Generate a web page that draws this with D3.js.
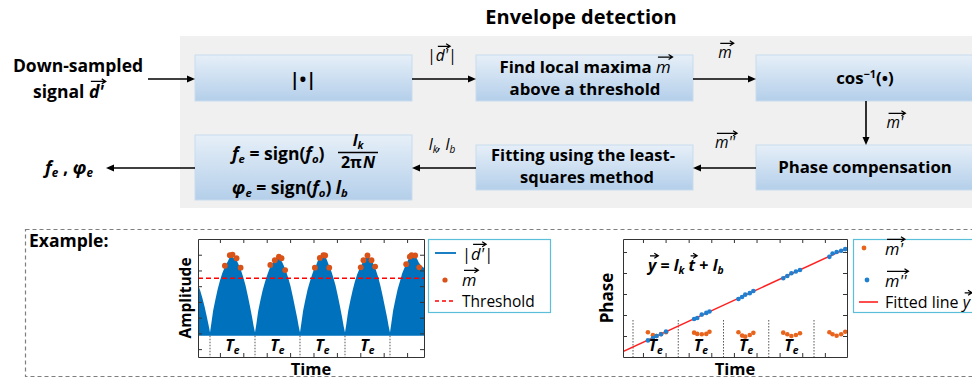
<!DOCTYPE html>
<html><head><meta charset="utf-8">
<script src="https://cdn.jsdelivr.net/npm/d3@7"></script>
<style>body{margin:0;background:#fff}svg{display:block}text{font-family:"Open Sans","Noto Sans",sans-serif}</style>
</head><body><svg id="c" width="972" height="379"></svg>
<script>
// ---------------- data ----------------
const segBounds = [0, 1, 2, 3, 4];          // period boundaries (units of Te)
const teAt = [0.5, 1.5, 2.5, 3.5];
// amplitude envelope |d'| (t in Te, amplitude)
const envT = [-0.267,-0.22,-0.17,-0.12,-0.07,-0.03,0,
 0.03,0.07,0.12,0.17,0.22,0.27,0.32,0.36,0.40,0.44,0.48,0.52,0.56,0.60,0.64,0.69,0.74,0.79,0.84,0.89,0.94,0.97,1.0,
 1.03,1.07,1.12,1.17,1.22,1.27,1.32,1.36,1.40,1.44,1.48,1.52,1.56,1.60,1.64,1.69,1.74,1.79,1.84,1.89,1.94,1.97,2.0,
 2.03,2.07,2.12,2.17,2.22,2.27,2.32,2.36,2.40,2.44,2.48,2.52,2.56,2.60,2.64,2.69,2.74,2.79,2.84,2.89,2.94,2.97,3.0,
 3.03,3.07,3.12,3.17,3.22,3.27,3.32,3.36,3.40,3.44,3.48,3.52,3.56,3.60,3.64,3.69,3.74,3.79,3.84,3.89,3.94,3.97,4.0,
 4.03,4.07,4.12,4.17,4.22,4.27,4.32,4.36,4.40,4.44,4.48,4.52,4.56,4.60,4.64,4.69,4.74,4.756];
const envA = [0.62,0.55,0.45,0.34,0.21,0.10,0.01,
 0.13,0.29,0.43,0.56,0.67,0.76,0.83,0.88,0.92,0.97,0.99,0.96,0.95,0.92,0.87,0.80,0.71,0.61,0.48,0.34,0.19,0.09,0.01,
 0.12,0.28,0.42,0.55,0.65,0.74,0.82,0.87,0.90,0.94,0.96,0.97,0.94,0.91,0.86,0.79,0.70,0.60,0.47,0.33,0.19,0.09,0.01,
 0.13,0.29,0.43,0.56,0.66,0.75,0.83,0.87,0.93,0.96,0.99,1.00,0.98,0.93,0.87,0.80,0.71,0.61,0.48,0.34,0.19,0.09,0.01,
 0.12,0.28,0.42,0.55,0.66,0.75,0.82,0.86,0.91,0.95,0.97,0.98,0.95,0.92,0.87,0.80,0.71,0.60,0.47,0.33,0.19,0.09,0.01,
 0.13,0.29,0.43,0.56,0.66,0.76,0.83,0.88,0.93,0.97,0.99,1.00,0.98,0.95,0.90,0.86,0.84,0.83];
const baseAmp = -0.03;
// local maxima m (t, amplitude)
const peakT = [0.33,0.44,0.50,0.59,0.68, 1.34,1.44,1.53,1.59,1.67, 2.33,2.44,2.52,2.56,2.65, 3.35,3.41,3.50,3.59,3.67, 4.36,4.44,4.48,4.56,4.65];
const peakA = [0.86,0.995,1.0,0.955,0.835, 0.87,0.93,0.975,0.955,0.805, 0.835,0.96,0.995,0.99,0.835, 0.84,0.93,0.99,0.93,0.85, 0.88,0.975,0.995,0.99,0.84];
const threshold = 0.70;
const ampTicks = [-0.2,0,0.2,0.4,0.6,0.8,1.0];
const timeTicksL = [0.22,0.74,1.26,1.78,2.30,2.82,3.34,3.86,4.38];
// phase: m' (arccos) and m'' (compensated)
const phT = [0.33,0.44,0.52,0.62,0.73, 1.35,1.42,1.52,1.62,1.69, 2.33,2.41,2.48,2.58,2.66, 3.32,3.41,3.50,3.60,3.69, 4.34,4.41,4.50,4.60,4.69];
const mPrime = [1.18,1.04,1.00,1.09,1.18, 1.16,1.10,1.08,1.10,1.20, 1.18,1.02,0.97,1.05,1.15, 1.16,1.08,1.00,1.05,1.13, 1.18,1.08,1.01,1.08,1.20];
const mDouble = [0.79,0.90,1.00,1.08,1.21, 1.81,1.86,2.02,2.10,2.17, 2.76,2.86,2.97,3.04,3.14, 3.75,3.86,3.99,4.07,4.14, 4.77,4.93,5.00,5.06,5.14];
const fitSlope = 0.995, fitIntercept = 0.479;   // l_k, l_b
const phaseTicks = [1,2,3,4,5];
const timeTicksR = [0.22,0.72,1.23,1.73,2.23,2.73,3.24,3.74,4.24];
const phaseTeTop = 1.76;

// ---------------- helpers ----------------
const svg = d3.select('#c');
const defs = svg.append('defs');
const gr = defs.append('linearGradient').attr('id','bx').attr('x1',0).attr('y1',0).attr('x2',0).attr('y2',1);
gr.append('stop').attr('offset','0%').attr('stop-color','#e6eff8');
gr.append('stop').attr('offset','100%').attr('stop-color','#b4cfea');

function rich(g, x, y, segs, o = {}) {
  const fs = o.size || 16;
  const t = g.append('text').attr('x', x).attr('y', y).attr('font-size', fs)
    .attr('font-weight', o.weight || 'bold').attr('text-anchor', o.anchor || 'start').attr('fill', '#000');
  let shift = 0, idx = 0; const vecs = [];
  segs.forEach(s => {
    if (typeof s === 'string') s = { t: s };
    const sp = t.append('tspan').text(s.t);
    if (s.i) sp.attr('font-style', 'italic');
    if (s.w) sp.attr('font-weight', s.w);
    const target = s.sub ? 0.18 : s.sup ? -0.38 : 0;
    const dy = (target - shift) * fs;
    if (dy) sp.attr('dy', dy);
    shift = target;
    if (s.sub || s.sup) sp.attr('font-size', fs * 0.65);
    if (s.dx) sp.attr('dx', s.dx);
    if (s.vec) vecs.push([idx, s.t.length]);
    idx += s.t.length;
  });
  const node = t.node();
  vecs.forEach(([a, n]) => {
    const e1 = node.getExtentOfChar(a), e2 = node.getExtentOfChar(a + n - 1);
    const x1 = e1.x + 2, x2 = e2.x + e2.width + 2, yy = y - fs * 0.95;
    g.append('path').attr('d', `M${x1},${yy}H${x2}M${x2-4},${yy-2.5}L${x2},${yy}L${x2-4},${yy+2.5}`)
      .attr('fill', 'none').attr('stroke', '#000').attr('stroke-width', 1.2);
  });
  return t;
}
function arrow(x1, y1, x2, y2) {
  const a = Math.atan2(y2 - y1, x2 - x1), L = 8, W = 3.5;
  const bx = x2 - L * Math.cos(a), by = y2 - L * Math.sin(a);
  svg.append('line').attr('x1', x1).attr('y1', y1).attr('x2', bx).attr('y2', by).attr('stroke', '#000').attr('stroke-width', 1.6);
  svg.append('path').attr('d', `M${x2},${y2}L${bx - W*Math.sin(a)},${by + W*Math.cos(a)}L${bx + W*Math.sin(a)},${by - W*Math.cos(a)}Z`).attr('fill', '#000');
}
function box(x, y, w, h) {
  svg.append('rect').attr('x', x).attr('y', y).attr('width', w).attr('height', h)
    .attr('fill', 'url(#bx)').attr('stroke', '#c8dbee').attr('stroke-width', 1);
}

// ---------------- flow diagram ----------------
svg.append('text').attr('x', 581).attr('y', 24).attr('text-anchor', 'middle').attr('font-size', 20)
  .attr('font-weight', 'bold').text('Envelope detection');
svg.append('rect').attr('x', 180).attr('y', 36).attr('width', 800).attr('height', 172).attr('fill', '#f0f0f0');

box(195, 55, 217, 46); box(476, 55, 217, 46); box(756, 55, 230, 46);
box(195, 135, 217, 65); box(476, 145, 217, 45); box(756, 145, 230, 45);

rich(svg, 78, 72, ['Down-sampled'], { size: 17.5, anchor: 'middle' });
rich(svg, 33, 98, ['signal ', { t: "d'", i: 1, vec: 1 }], { size: 17.5 });
arrow(148, 79, 195, 79);
rich(svg, 303, 86, ['|•|'], { size: 18, anchor: 'middle' });
arrow(412, 79, 476, 79);
rich(svg, 442, 61, ['|', { t: "d'", i: 1, vec: 1 }, '|'], { size: 15.5, anchor: 'middle', weight: 'normal' });
rich(svg, 585, 73, ['Find local maxima ', { t: 'm', i: 1, vec: 1, w: 'normal' }], { size: 16.8, anchor: 'middle' });
rich(svg, 585, 95, ['above a threshold'], { size: 16.8, anchor: 'middle' });
arrow(693, 79, 756, 79);
rich(svg, 725, 58, [{ t: 'm', i: 1, vec: 1 }], { size: 15.5, anchor: 'middle', weight: 'normal' });
rich(svg, 865, 84, ['cos', { t: '−1', sup: 1 }, '(•)'], { size: 16.8, anchor: 'middle' });
arrow(866, 101, 866, 145);
rich(svg, 895, 128, [{ t: "m'", i: 1, vec: 1 }], { size: 15.5, anchor: 'middle', weight: 'normal' });
rich(svg, 865, 173, ['Phase compensation'], { size: 16.8, anchor: 'middle' });
arrow(756, 168, 693, 168);
rich(svg, 725, 148, [{ t: "m''", i: 1, vec: 1 }], { size: 15.5, anchor: 'middle', weight: 'normal' });
rich(svg, 583, 161, ['Fitting using the least-'], { size: 16.5, anchor: 'middle' });
rich(svg, 587, 183, ['squares method'], { size: 16.5, anchor: 'middle' });
arrow(476, 168, 412, 168);
rich(svg, 442, 150, [{ t: 'l', i: 1 }, { t: 'k', i: 1, sub: 1 }, { t: ', ', i: 1 }, { t: 'l', i: 1 }, { t: 'b', i: 1, sub: 1 }], { size: 15.5, anchor: 'middle', weight: 'normal' });
// formula box
rich(svg, 232, 160, [{ t: 'f', i: 1 }, { t: 'e', i: 1, sub: 1 }, ' = sign(', { t: 'f', i: 1 }, { t: 'o', i: 1, sub: 1 }, ')'], { size: 17.5 });
rich(svg, 358, 146, [{ t: 'l', i: 1 }, { t: 'k', i: 1, sub: 1 }], { size: 16, anchor: 'middle' });
svg.append('line').attr('x1', 338).attr('x2', 378).attr('y1', 152.5).attr('y2', 152.5).attr('stroke', '#000').attr('stroke-width', 1.3);
rich(svg, 358, 168, ['2π', { t: 'N', i: 1, dx: 1 }], { size: 16, anchor: 'middle' });
rich(svg, 232, 194, [{ t: 'φ', i: 1 }, { t: 'e', i: 1, sub: 1 }, ' = sign(', { t: 'f', i: 1 }, { t: 'o', i: 1, sub: 1 }, ')  ', { t: 'l', i: 1 }, { t: 'b', i: 1, sub: 1 }], { size: 17.5 });
arrow(195, 168, 106, 168);
rich(svg, 45, 174, [{ t: 'f', i: 1 }, { t: 'e', i: 1, sub: 1 }, ' , ', { t: 'φ', i: 1 }, { t: 'e', i: 1, sub: 1 }], { size: 18 });

// ---------------- example frame ----------------
svg.append('rect').attr('x', 25.5).attr('y', 229.5).attr('width', 960).attr('height', 147)
  .attr('fill', 'none').attr('stroke', '#7f7f7f').attr('stroke-width', 1.2).attr('stroke-dasharray', '4,3');
svg.append('text').attr('x', 29).attr('y', 247).attr('font-size', 17.5).attr('font-weight', 'bold').text('Example:');

function frame(g, x, y, xt, yt) {
  g.append('g').attr('transform', `translate(0,${y.range()[1]})`).call(d3.axisTop(x).tickValues(xt).tickSize(-4).tickSizeOuter(0).tickFormat(''));
  g.append('g').attr('transform', `translate(0,${y.range()[0]})`).call(d3.axisBottom(x).tickValues(xt).tickSize(-4).tickSizeOuter(0).tickFormat(''));
  g.append('g').attr('transform', `translate(${x.range()[0]},0)`).call(d3.axisLeft(y).tickValues(yt).tickSize(-4).tickSizeOuter(0).tickFormat(''));
  g.append('g').attr('transform', `translate(${x.range()[1]},0)`).call(d3.axisRight(y).tickValues(yt).tickSize(-4).tickSizeOuter(0).tickFormat(''));
  g.selectAll('.domain,.tick line').attr('stroke', '#333');
}
function teLabels(g, x, yb) {
  teAt.forEach(t => rich(g, x(t), yb, [{ t: 'T', i: 1 }, { t: 'e', i: 1, sub: 1 }], { size: 16, anchor: 'middle' }));
}

// amplitude plot
const xL = d3.scaleLinear().domain([-0.267, 4.756]).range([198, 424]);
const yL = d3.scaleLinear().domain([-0.3, 1.2]).range([357, 239]);
const gL = svg.append('g');
defs.append('clipPath').attr('id', 'cl').append('rect').attr('x', 198).attr('y', 239).attr('width', 226).attr('height', 118);
const env = envT.map((t, i) => [t, envA[i]]);
gL.append('path').datum(env).attr('clip-path', 'url(#cl)')
  .attr('d', d3.area().x(d => xL(d[0])).y0(yL(baseAmp)).y1(d => yL(d[1])))
  .attr('fill', '#0072BD');
gL.selectAll('.sb').data(segBounds).join('line').attr('x1', d => xL(d)).attr('x2', d => xL(d))
  .attr('y1', yL(baseAmp)).attr('y2', yL(-0.3)).attr('stroke', '#555').attr('stroke-dasharray', '1.5,1.5');
gL.append('line').attr('x1', 198).attr('x2', 424).attr('y1', yL(threshold)).attr('y2', yL(threshold))
  .attr('stroke', '#FF0000').attr('stroke-width', 1.5).attr('stroke-dasharray', '5,3');
gL.selectAll('.pk').data(peakT.map((t, i) => [t, peakA[i]])).join('circle')
  .attr('cx', d => xL(d[0])).attr('cy', d => yL(d[1])).attr('r', 2.9).attr('fill', '#D95319');
teLabels(gL, xL, 351);
frame(gL, xL, yL, timeTicksL, ampTicks);
gL.append('text').attr('transform', 'translate(191,298) rotate(-90)').attr('text-anchor', 'middle')
  .attr('font-size', 15.5).attr('font-weight', 'bold').text('Amplitude');
gL.append('text').attr('x', 311).attr('y', 375).attr('text-anchor', 'middle').attr('font-size', 16.5).attr('font-weight', 'bold').text('Time');

// legend 1
svg.append('rect').attr('x', 428.5).attr('y', 239.5).attr('width', 122).attr('height', 73).attr('fill', '#fff').attr('stroke', '#5bbfd9').attr('stroke-width', 1.2);
svg.append('line').attr('x1', 435).attr('x2', 456).attr('y1', 253).attr('y2', 253).attr('stroke', '#0072BD').attr('stroke-width', 1.8);
rich(svg, 462, 260, ['|', { t: "d'", i: 1, vec: 1 }, '|'], { size: 16.5, weight: 'normal' });
svg.append('circle').attr('cx', 445).attr('cy', 280).attr('r', 2.6).attr('fill', '#D95319');
rich(svg, 462, 286, [{ t: 'm', i: 1, vec: 1 }], { size: 16.5, weight: 'normal' });
svg.append('line').attr('x1', 435).attr('x2', 456).attr('y1', 301).attr('y2', 301).attr('stroke', '#FF0000').attr('stroke-width', 1.5).attr('stroke-dasharray', '4,3');
rich(svg, 462, 307, ['Threshold'], { size: 15.5, weight: 'normal' });

// phase plot
const xR = d3.scaleLinear().domain([-0.221, 4.729]).range([623, 847]);
const yR = d3.scaleLinear().domain([0, 5.62]).range([357, 239]);
const gR = svg.append('g');
defs.append('clipPath').attr('id', 'cr').append('rect').attr('x', 623).attr('y', 239).attr('width', 224).attr('height', 118);
gR.selectAll('.sb').data(segBounds).join('line').attr('x1', d => xR(d)).attr('x2', d => xR(d))
  .attr('y1', yR(phaseTeTop)).attr('y2', yR(0)).attr('stroke', '#555').attr('stroke-dasharray', '1.5,1.5');
gR.append('line').attr('clip-path', 'url(#cr)')
  .attr('x1', xR(-0.221)).attr('y1', yR(fitIntercept + fitSlope * -0.221))
  .attr('x2', xR(4.729)).attr('y2', yR(fitIntercept + fitSlope * 4.729))
  .attr('stroke', '#FF2020').attr('stroke-width', 1.5);
gR.selectAll('.mp').data(phT.map((t, i) => [t, mPrime[i]])).join('circle')
  .attr('cx', d => xR(d[0])).attr('cy', d => yR(d[1])).attr('r', 2.3).attr('fill', '#E8641C');
gR.selectAll('.md').data(phT.map((t, i) => [t, mDouble[i]])).join('circle')
  .attr('cx', d => xR(d[0])).attr('cy', d => yR(d[1])).attr('r', 2.3).attr('fill', '#1f7fd0');
teLabels(gR, xR, 351);
frame(gR, xR, yR, timeTicksR, phaseTicks);
rich(gR, 648, 271, [{ t: 'y', i: 1, vec: 1 }, ' = ', { t: 'l', i: 1 }, { t: 'k', i: 1, sub: 1 }, ' ', { t: 't', i: 1, vec: 1 }, ' + ', { t: 'l', i: 1 }, { t: 'b', i: 1, sub: 1 }], { size: 16 });
gR.append('text').attr('transform', 'translate(613,298) rotate(-90)').attr('text-anchor', 'middle')
  .attr('font-size', 17).attr('font-weight', 'bold').text('Phase');
gR.append('text').attr('x', 735).attr('y', 375).attr('text-anchor', 'middle').attr('font-size', 16.5).attr('font-weight', 'bold').text('Time');

// legend 2
svg.append('rect').attr('x', 853.5).attr('y', 239.5).attr('width', 130).attr('height', 73).attr('fill', '#fff').attr('stroke', '#5bbfd9').attr('stroke-width', 1.2);
svg.append('circle').attr('cx', 864).attr('cy', 248).attr('r', 2.4).attr('fill', '#E8641C');
rich(svg, 885, 255, [{ t: "m'", i: 1, vec: 1 }], { size: 16.5, weight: 'normal' });
svg.append('circle').attr('cx', 867).attr('cy', 280).attr('r', 2.4).attr('fill', '#1f7fd0');
rich(svg, 885, 287, [{ t: "m''", i: 1, vec: 1 }], { size: 16.5, weight: 'normal' });
svg.append('line').attr('x1', 859).attr('x2', 878).attr('y1', 302).attr('y2', 302).attr('stroke', '#FF2020').attr('stroke-width', 1.6);
rich(svg, 885, 308, ['Fitted line ', { t: 'y', i: 1, vec: 1 }], { size: 16, weight: 'normal' });
</script></body></html>
